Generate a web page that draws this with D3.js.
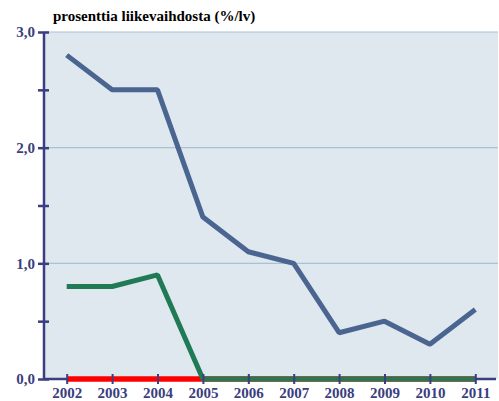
<!DOCTYPE html>
<html>
<head>
<meta charset="utf-8">
<script src="https://cdn.jsdelivr.net/npm/d3@7"></script>
<style>
  body { margin: 0; background: #fff; }
  svg { display: block; }
  text { font-family: "Liberation Serif", "DejaVu Serif", serif; font-weight: bold; }
</style>
</head>
<body>
<svg id="chart"></svg>
<script>
// data
const years = ["2002", "2003", "2004", "2005", "2006", "2007", "2008", "2009", "2010", "2011"];
const blueValues = [2.8, 2.5, 2.5, 1.4, 1.1, 1.0, 0.4, 0.5, 0.3, 0.6];
const greenValues = [0.8, 0.8, 0.9, 0, 0, 0, 0, 0, 0, 0];
const redValues = [0, 0, 0, 0, 0, 0, 0, 0, 0, 0];
const yTickLabels = [0, 1, 2, 3];

const width = 499, height = 401;
const plotLeft = 44, plotRight = 498, plotTop = 32, plotBottom = 379;
const axisColor = "#3b3e80";

const svg = d3.select("#chart").attr("width", width).attr("height", height);

const x = d3.scalePoint().domain(years).range([plotLeft, plotRight]).padding(0.5);
const y = d3.scaleLinear().domain([0, 3]).range([plotBottom, plotTop]);

// plot background
svg.append("rect")
  .attr("x", plotLeft).attr("y", plotTop)
  .attr("width", plotRight - plotLeft).attr("height", plotBottom - plotTop)
  .attr("fill", "#dfe7ef");

// gridlines
svg.append("g")
  .selectAll("line")
  .data([1, 2, 3])
  .join("line")
  .attr("x1", plotLeft).attr("x2", plotRight)
  .attr("y1", d => y(d)).attr("y2", d => y(d))
  .attr("stroke", "#a6c2d4")
  .attr("stroke-width", 1.2);

// title
svg.append("text")
  .attr("x", 53).attr("y", 21)
  .style("font-size", "15px")
  .attr("fill", "#000")
  .text("prosenttia liikevaihdosta (%/lv)");

// y axis
const yAxis = svg.append("g")
  .attr("transform", "translate(" + plotLeft + ",0)")
  .call(d3.axisLeft(y).tickValues(d3.range(0, 3.01, 0.5)).tickSize(5)
    .tickFormat(d => yTickLabels.includes(d) ? d3.format(".1f")(d).replace(".", ",") : ""));
yAxis.attr("font-family", null).attr("font-size", null);
yAxis.select(".domain")
  .attr("d", "M0," + plotTop + "V" + plotBottom)
  .attr("stroke", axisColor).attr("stroke-width", 2.5);
yAxis.selectAll(".tick line")
  .attr("x1", 5).attr("x2", -6)
  .attr("stroke", axisColor).attr("stroke-width", 2.5);
yAxis.selectAll(".tick text")
  .attr("x", -9)
  .style("font-size", "15px")
  .attr("fill", axisColor);

// x axis baseline (under the lines)
svg.append("line")
  .attr("x1", plotLeft).attr("x2", 496)
  .attr("y1", y(0)).attr("y2", y(0))
  .attr("stroke", axisColor).attr("stroke-width", 2.5);

// lines
const line = vals => d3.line()
  .x((d, i) => x(years[i]))
  .y(d => y(d))(vals);

svg.append("path")
  .attr("d", line(redValues))
  .attr("fill", "none")
  .attr("stroke", "#ff0000")
  .attr("stroke-width", 5.5);

svg.append("path")
  .attr("d", line(greenValues))
  .attr("fill", "none")
  .attr("stroke", "#1f7a55")
  .attr("stroke-width", 5)
  .attr("stroke-linejoin", "bevel");

svg.append("path")
  .attr("d", line(blueValues))
  .attr("fill", "none")
  .attr("stroke", "#4a6590")
  .attr("stroke-width", 5)
  .attr("stroke-linejoin", "bevel");

// x axis ticks and labels (ticks show over the lines)
const xAxis = svg.append("g")
  .attr("transform", "translate(0," + plotBottom + ")")
  .call(d3.axisBottom(x).tickSize(5));
xAxis.attr("font-family", null).attr("font-size", null);
xAxis.select(".domain").remove();
xAxis.selectAll(".tick line")
  .attr("y1", -5).attr("y2", 5)
  .attr("stroke", axisColor).attr("stroke-width", 2);
xAxis.selectAll(".tick text")
  .attr("y", 8)
  .style("font-size", "15px")
  .attr("fill", axisColor);
</script>
</body>
</html>
